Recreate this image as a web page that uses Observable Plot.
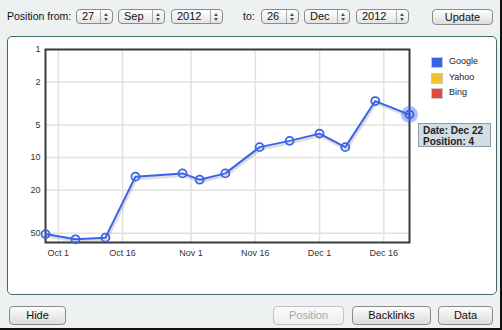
<!DOCTYPE html>
<html><head><meta charset="utf-8">
<script src="https://cdn.jsdelivr.net/npm/d3@7"></script>
<script src="https://cdn.jsdelivr.net/npm/@observablehq/plot@0.6"></script>
<style>
html,body{margin:0;padding:0;}
body{width:502px;height:330px;position:relative;overflow:hidden;background:#eef1f1;font-family:"Liberation Sans",Arial,sans-serif;color:#111;}
.edge-r{position:absolute;right:0;top:0;width:2px;height:330px;background:#111;}
.edge-b{position:absolute;left:0;bottom:0;width:502px;height:2px;background:#111;}
.lbl{position:absolute;font-size:10.5px;}
.sel{position:absolute;height:13px;border:1px solid #8a8a8a;border-radius:4px;background:linear-gradient(#ffffff,#e4e4e4);font-size:11px;line-height:13px;box-sizing:content-box;}
.sel .v{position:absolute;left:5px;top:0;}
.sel .sp{position:absolute;right:0;top:0;width:11px;height:13px;border-left:1px solid #aaa;}
.sel .up{position:absolute;left:3px;top:3px;width:0;height:0;border-left:2px solid transparent;border-right:2px solid transparent;border-bottom:3px solid #555;}
.sel .dn{position:absolute;left:3px;top:8px;width:0;height:0;border-left:2px solid transparent;border-right:2px solid transparent;border-top:3px solid #555;}
.btn{position:absolute;border:1px solid #8a8a8a;border-radius:4px;background:linear-gradient(#fdfdfd,#dcdcdc);font-size:11px;text-align:center;box-sizing:border-box;}
.btn.dis{color:#a9a9a9;border-color:#c2c2c2;background:linear-gradient(#fafafa,#eeeeee);}
.panel{position:absolute;left:7px;top:36px;width:490px;height:259px;box-sizing:border-box;border:1.5px solid #3e6a6c;border-radius:5px;background:#fff;}
#chart{position:absolute;left:0;top:37px;}
.leg{position:absolute;left:431px;font-size:9px;color:#222;}
.leg i{position:absolute;left:0;top:0;width:10px;height:9px;border:1px solid #c8c8c8;}
.leg span{position:absolute;left:18px;top:-1px;white-space:nowrap;}
.tip{position:absolute;left:418px;top:123px;width:73px;height:24px;box-sizing:border-box;background:#d3dde4;border:1px solid #8c9ba4;font-size:10px;font-weight:bold;line-height:11px;padding:1px 0 0 4px;color:#222;white-space:nowrap;}
</style></head>
<body>
<div class="lbl" style="left:7px;top:10px;">Position from:</div>
<div class="sel" style="left:76px;top:9px;width:35px;"><span class="v">27</span><span class="sp"><i class="up"></i><i class="dn"></i></span></div>
<div class="sel" style="left:118px;top:9px;width:45px;"><span class="v">Sep</span><span class="sp"><i class="up"></i><i class="dn"></i></span></div>
<div class="sel" style="left:171px;top:9px;width:50px;"><span class="v">2012</span><span class="sp"><i class="up"></i><i class="dn"></i></span></div>
<div class="lbl" style="left:243px;top:10px;">to:</div>
<div class="sel" style="left:261px;top:9px;width:36px;"><span class="v">26</span><span class="sp"><i class="up"></i><i class="dn"></i></span></div>
<div class="sel" style="left:304px;top:9px;width:44px;"><span class="v">Dec</span><span class="sp"><i class="up"></i><i class="dn"></i></span></div>
<div class="sel" style="left:356px;top:9px;width:51px;"><span class="v">2012</span><span class="sp"><i class="up"></i><i class="dn"></i></span></div>
<div class="btn" style="left:432px;top:9px;width:61px;height:16px;line-height:14px;">Update</div>
<div class="panel"></div>
<div id="chart"></div>
<div id="legend"></div>
<div class="tip" id="tip"></div>
<div class="btn" style="left:9px;top:306px;width:57px;height:19px;line-height:17px;">Hide</div>
<div class="btn dis" style="left:273px;top:306px;width:71px;height:19px;line-height:17px;">Position</div>
<div class="btn" style="left:352px;top:306px;width:79px;height:19px;line-height:17px;">Backlinks</div>
<div class="btn" style="left:438px;top:306px;width:55px;height:19px;line-height:17px;">Data</div>
<div class="edge-r"></div><div class="edge-b"></div>
<script>
const dates = ["2012-09-28","2012-10-05","2012-10-12","2012-10-19","2012-10-30","2012-11-03","2012-11-09","2012-11-17","2012-11-24","2012-12-01","2012-12-07","2012-12-14","2012-12-22"];
const positions = [51,57,55,15,14,16,14,8,7,6,8,3,4];
const xTickDates = ["2012-10-01","2012-10-16","2012-11-01","2012-11-16","2012-12-01","2012-12-16"];
const xTickLabels = ["Oct 1","Oct 16","Nov 1","Nov 16","Dec 1","Dec 16"];
const yTicks = [1,2,5,10,20,50];
const seriesNames = ["Google","Yahoo","Bing"];
const seriesColors = ["#3a62ea","#f2c12e","#e8473b"];
const xDomain = ["2012-09-28","2012-12-22"];
const yDomain = [1, 61];

const data = dates.map((d,i)=>({date:new Date(d+"T00:00:00Z"), pos:positions[i]}));
const xTicks = xTickDates.map(d=>new Date(d+"T00:00:00Z"));
const blue = seriesColors[0];
const last = data[data.length-1];

const chart = Plot.plot({
  width: 420, height: 230,
  marginLeft: 45, marginRight: 11, marginTop: 12, marginBottom: 25,
  style: {fontFamily: '"Liberation Sans",Arial,sans-serif', fontSize: "9px", color: "#333", background: "transparent", overflow: "visible"},
  x: {type: "utc", domain: xDomain.map(d=>new Date(d+"T00:00:00Z")), ticks: xTicks,
      tickFormat: d => xTickLabels[xTicks.findIndex(t=>+t===+d)], tickSize: 0, tickPadding: 7, label: null},
  y: {type: "log", domain: yDomain, reverse: true, ticks: yTicks, tickFormat: d=>String(d), tickSize: 0, tickPadding: 5, label: null},
  marks: [
    Plot.gridX(xTicks, {stroke: "#e2e2e2", strokeOpacity: 1, strokeWidth: 1.5}),
    Plot.gridY(yTicks, {stroke: "#e2e2e2", strokeOpacity: 1, strokeWidth: 1.5}),
    Plot.frame({stroke: "#3a3a3a", strokeWidth: 2}),
    Plot.line(data, {x: "date", y: "pos", stroke: "#000", strokeOpacity: 0.13, strokeWidth: 3, dy: 2, dx: 1}),
    Plot.line(data, {x: "date", y: "pos", stroke: blue, strokeWidth: 2}),
    Plot.dot(data, {x: "date", y: "pos", r: 4, stroke: blue, strokeWidth: 1.8, fill: "none"}),
    Plot.dot([last], {x: "date", y: "pos", r: 8.5, fill: blue, fillOpacity: 0.4, stroke: "none"})
  ]
});
document.getElementById("chart").appendChild(chart);

const leg = document.getElementById("legend");
seriesNames.forEach((n,i)=>{
  const el = document.createElement("div");
  el.className = "leg";
  el.style.top = (57 + i*15.7) + "px";
  el.innerHTML = `<i style="background:${seriesColors[i]}"></i><span>${n}</span>`;
  leg.appendChild(el);
});
const fmt = d3.utcFormat("%b %-d");
document.getElementById("tip").innerHTML = `Date: ${fmt(last.date)}<br>Position: ${last.pos}`;
</script>
</body></html>
